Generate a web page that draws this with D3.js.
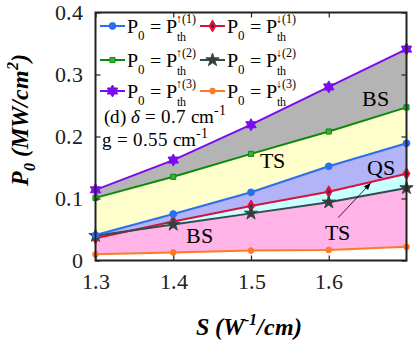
<!DOCTYPE html>
<html>
<head>
<meta charset="utf-8">
<script src="https://cdn.jsdelivr.net/npm/d3@7"></script>
<style>
  @font-face { font-family: "ChartSerif"; src: local("Liberation Serif"), local("LiberationSerif"), local("LiberationSerif-Regular"); font-weight: normal; font-style: normal; }
  @font-face { font-family: "ChartSerif"; src: local("Liberation Serif Italic"), local("LiberationSerif-Italic"); font-weight: normal; font-style: italic; }
  @font-face { font-family: "ChartSerif"; src: local("Liberation Serif Bold"), local("LiberationSerif-Bold"); font-weight: bold; font-style: normal; }
  @font-face { font-family: "ChartSerif"; src: local("Liberation Serif Bold Italic"), local("LiberationSerif-BoldItalic"); font-weight: bold; font-style: italic; }
  svg text, svg tspan { font-family: "ChartSerif", "Liberation Serif", "Times New Roman", serif !important; }
</style>
</head>
<body style="margin:0">
<script>
// chart data
var S = [1.3, 1.4, 1.5, 1.6, 1.7];
var up1 = [0.041, 0.075, 0.110, 0.152, 0.189];
var up2 = [0.101, 0.135, 0.172, 0.208, 0.247];
var up3 = [0.114, 0.162, 0.219, 0.280, 0.341];
var down1 = [0.036, 0.063, 0.088, 0.111, 0.140];
var down2 = [0.040, 0.058, 0.076, 0.094, 0.117];
var down3 = [0.010, 0.013, 0.016, 0.017, 0.022];
var xTicks = [1.3, 1.4, 1.5, 1.6];
var yTicks = [0, 0.1, 0.2, 0.3, 0.4];

var width = 415, height = 347;
var x0 = 95.5, x1 = 406.5, y0 = 260.5, y1 = 12.5;
var serif = "ChartSerif, Liberation Serif, serif";

var x = d3.scaleLinear().domain([1.3, 1.7]).range([x0, x1]);
var y = d3.scaleLinear().domain([0, 0.4]).range([y0, y1]);

var svg = d3.select("body").append("svg")
    .attr("width", width)
    .attr("height", height)
    .attr("font-family", serif);

// shaded regions between the threshold curves
var bands = [
  {lo: up2, hi: up3, fill: "#b4b4b4"},
  {lo: up1, hi: up2, fill: "#ffffcc"},
  {lo: down1, hi: up1, fill: "#b3b3f7"},
  {lo: down2, hi: down1, fill: "#c8ffff"},
  {lo: down3, hi: down2, fill: "#ffb3e6"}
];
var area = d3.area()
    .x(function(d) { return x(d.s); })
    .y0(function(d) { return y(d.lo); })
    .y1(function(d) { return y(d.hi); });
bands.forEach(function(b) {
  svg.append("path")
      .datum(S.map(function(s, i) { return {s: s, lo: b.lo[i], hi: b.hi[i]}; }))
      .attr("fill", b.fill)
      .attr("d", area);
});

// hexagram for the purple curve
var hexagram = {
  draw: function(ctx, size) {
    var r = Math.sqrt(size) * 0.75, ri = r * 0.58;
    for (var k = 0; k < 12; k++) {
      var a = Math.PI / 6 * k - Math.PI / 2;
      var rr = k % 2 ? ri : r;
      if (k == 0) ctx.moveTo(rr * Math.cos(a), rr * Math.sin(a));
      else ctx.lineTo(rr * Math.cos(a), rr * Math.sin(a));
    }
    ctx.closePath();
  }
};

var series = [
  {v: up1, color: "#2a6ff0", sym: d3.symbolCircle, size: 36, fill: "#2a6ff0", dot: null, label: "\u2191(1)"},
  {v: up2, color: "#0a8a0a", sym: d3.symbolSquare, size: 26, fill: "#3cb03c", dot: null, label: "\u2191(2)"},
  {v: up3, color: "#7a0af0", sym: hexagram, size: 64, fill: "#7a0af0", dot: null, label: "\u2191(3)"},
  {v: down1, color: "#d8123c", sym: d3.symbolDiamond, size: 40, fill: "#e8101c", dot: "#2020c0", label: "\u2193(1)"},
  {v: down2, color: "#2d4f4f", sym: d3.symbolStar, size: 55, fill: "#3a3a3a", dot: null, label: "\u2193(2)"},
  {v: down3, color: "#ff7a26", sym: d3.symbolCircle, size: 26, fill: "#ff7a26", dot: null, label: "\u2193(3)"}
];

var line = d3.line()
    .x(function(d, i) { return x(S[i]); })
    .y(function(d) { return y(d); });

[5, 3, 4, 0, 1, 2].forEach(function(k) {
  var s = series[k];
  svg.append("path")
      .datum(s.v)
      .attr("fill", "none")
      .attr("stroke", s.color)
      .attr("stroke-width", 2)
      .attr("d", line);
  var g = svg.append("g");
  g.selectAll("path")
      .data(s.v)
      .enter()
      .append("path")
      .attr("transform", function(d, i) { return "translate(" + x(S[i]) + "," + y(d) + ")"; })
      .attr("d", d3.symbol().type(s.sym).size(s.size))
      .attr("fill", s.fill)
      .attr("stroke", s.color)
      .attr("stroke-width", 1);
  if (s.dot) {
    g.selectAll("circle")
        .data(s.v)
        .enter()
        .append("circle")
        .attr("cx", function(d, i) { return x(S[i]); })
        .attr("cy", function(d) { return y(d); })
        .attr("r", 1.5)
        .attr("fill", s.dot);
  }
});

// region labels
var regions = [
  {t: "BS", s: 1.66, p: 0.249},
  {t: "TS", s: 1.528, p: 0.150},
  {t: "QS", s: 1.667, p: 0.138},
  {t: "BS", s: 1.434, p: 0.029},
  {t: "TS", s: 1.611, p: 0.033}
];
svg.append("g").selectAll("text")
    .data(regions)
    .enter()
    .append("text")
    .attr("x", function(d) { return x(d.s); })
    .attr("y", function(d) { return y(d.p); })
    .attr("text-anchor", "middle")
    .style("font-size", "22px")
    .text(function(d) { return d.t; });

// arrow from lower TS to the cyan strip, head drawn as a small triangle
var ax1 = x(1.612), ay1 = y(0.069), ax2 = x(1.654), ay2 = y(0.125);
var ang = Math.atan2(ay2 - ay1, ax2 - ax1) * 180 / Math.PI;
svg.append("line")
    .attr("x1", ax1).attr("y1", ay1)
    .attr("x2", ax2).attr("y2", ay2)
    .attr("stroke", "#000")
    .attr("stroke-width", 0.8);
svg.append("path")
    .attr("transform", "translate(" + ax2 + "," + ay2 + ") rotate(" + ang + ")")
    .attr("d", "M0,0L-7,-2.8L-7,2.8z")
    .attr("fill", "#000");

// axes box and ticks
svg.append("rect")
    .attr("x", x0).attr("y", y1)
    .attr("width", x1 - x0).attr("height", y0 - y1)
    .attr("fill", "none")
    .attr("stroke", "#222")
    .attr("stroke-width", 2);

var xb = svg.append("g").attr("transform", "translate(0," + y0 + ")")
    .call(d3.axisBottom(x).tickValues(xTicks).tickSize(-5).tickPadding(13).tickFormat(d3.format(".1f")));
var xt = svg.append("g").attr("transform", "translate(0," + y1 + ")")
    .call(d3.axisTop(x).tickValues(xTicks).tickSize(-5).tickFormat(""));
var yl = svg.append("g").attr("transform", "translate(" + x0 + ",0)")
    .call(d3.axisLeft(y).tickValues(yTicks).tickSize(-5).tickPadding(13)
      .tickFormat(function(d) { return d == 0 ? "0" : d3.format(".1f")(d); }));
var yr = svg.append("g").attr("transform", "translate(" + x1 + ",0)")
    .call(d3.axisRight(y).tickValues(yTicks).tickSize(-5).tickFormat(""));
[xb, xt, yl, yr].forEach(function(a) {
  a.attr("font-family", serif);
  a.select(".domain").remove();
  a.selectAll(".tick line").attr("stroke", "#222").attr("stroke-width", 1.2);
  a.selectAll("text")
      .style("font-size", "22px")
      .attr("fill", "#222");
});

// axis titles
svg.append("text")
    .attr("x", 249).attr("y", 335)
    .attr("text-anchor", "middle")
    .style("font-size", "24px")
    .style("font-weight", "bold")
    .style("font-style", "italic")
    .html('S (W<tspan dy="-10" font-size="16px">-1</tspan><tspan dy="10">/cm)</tspan>');

svg.append("text")
    .attr("transform", "translate(28,120) rotate(-90)")
    .attr("text-anchor", "middle")
    .style("font-size", "24px")
    .style("font-weight", "bold")
    .style("font-style", "italic")
    .html('P<tspan dy="7" font-size="16px">0</tspan><tspan dy="-7"> (MW/cm</tspan><tspan dy="-10" font-size="16px">2</tspan><tspan dy="10">)</tspan>');

// legend, two columns of three rows
var legendPos = [[100, 26], [100, 60], [100, 91], [200, 26], [200, 60], [200, 91]];
series.forEach(function(s, k) {
  var lx = legendPos[k][0], ly = legendPos[k][1];
  var g = svg.append("g");
  g.append("line")
      .attr("x1", lx).attr("x2", lx + 25)
      .attr("y1", ly).attr("y2", ly)
      .attr("stroke", s.color).attr("stroke-width", 2);
  g.append("path")
      .attr("transform", "translate(" + (lx + 12.5) + "," + ly + ")")
      .attr("d", d3.symbol().type(s.sym).size(s.size))
      .attr("fill", s.fill)
      .attr("stroke", s.color);
  if (s.dot) {
    g.append("circle").attr("cx", lx + 12.5).attr("cy", ly).attr("r", 1.5).attr("fill", s.dot);
  }
  // "th" as subscript, then the arrow label stacked above it
  g.append("text")
      .attr("x", lx + 27).attr("y", ly + 7)
      .style("font-size", "20px")
      .html('P<tspan dy="7" font-size="13px">0</tspan><tspan dy="-7"> = P</tspan>' +
            '<tspan dy="8" font-size="12px">th</tspan>' +
            '<tspan dx="-10" dy="-18" font-size="12px">' + s.label + '</tspan>');
});

// parameter notes
svg.append("text")
    .attr("x", 104).attr("y", 123)
    .style("font-size", "19px")
    .html('(d) <tspan font-style="italic">\u03b4</tspan> = 0.7 cm<tspan dy="-8" font-size="14px">-1</tspan>');
svg.append("text")
    .attr("x", 102).attr("y", 146)
    .style("font-size", "19px")
    .html('g = 0.55 cm<tspan dy="-8" font-size="14px">-1</tspan>');

svg.selectAll("text")
    .attr("font-family", serif);
</script>
</body>
</html>
